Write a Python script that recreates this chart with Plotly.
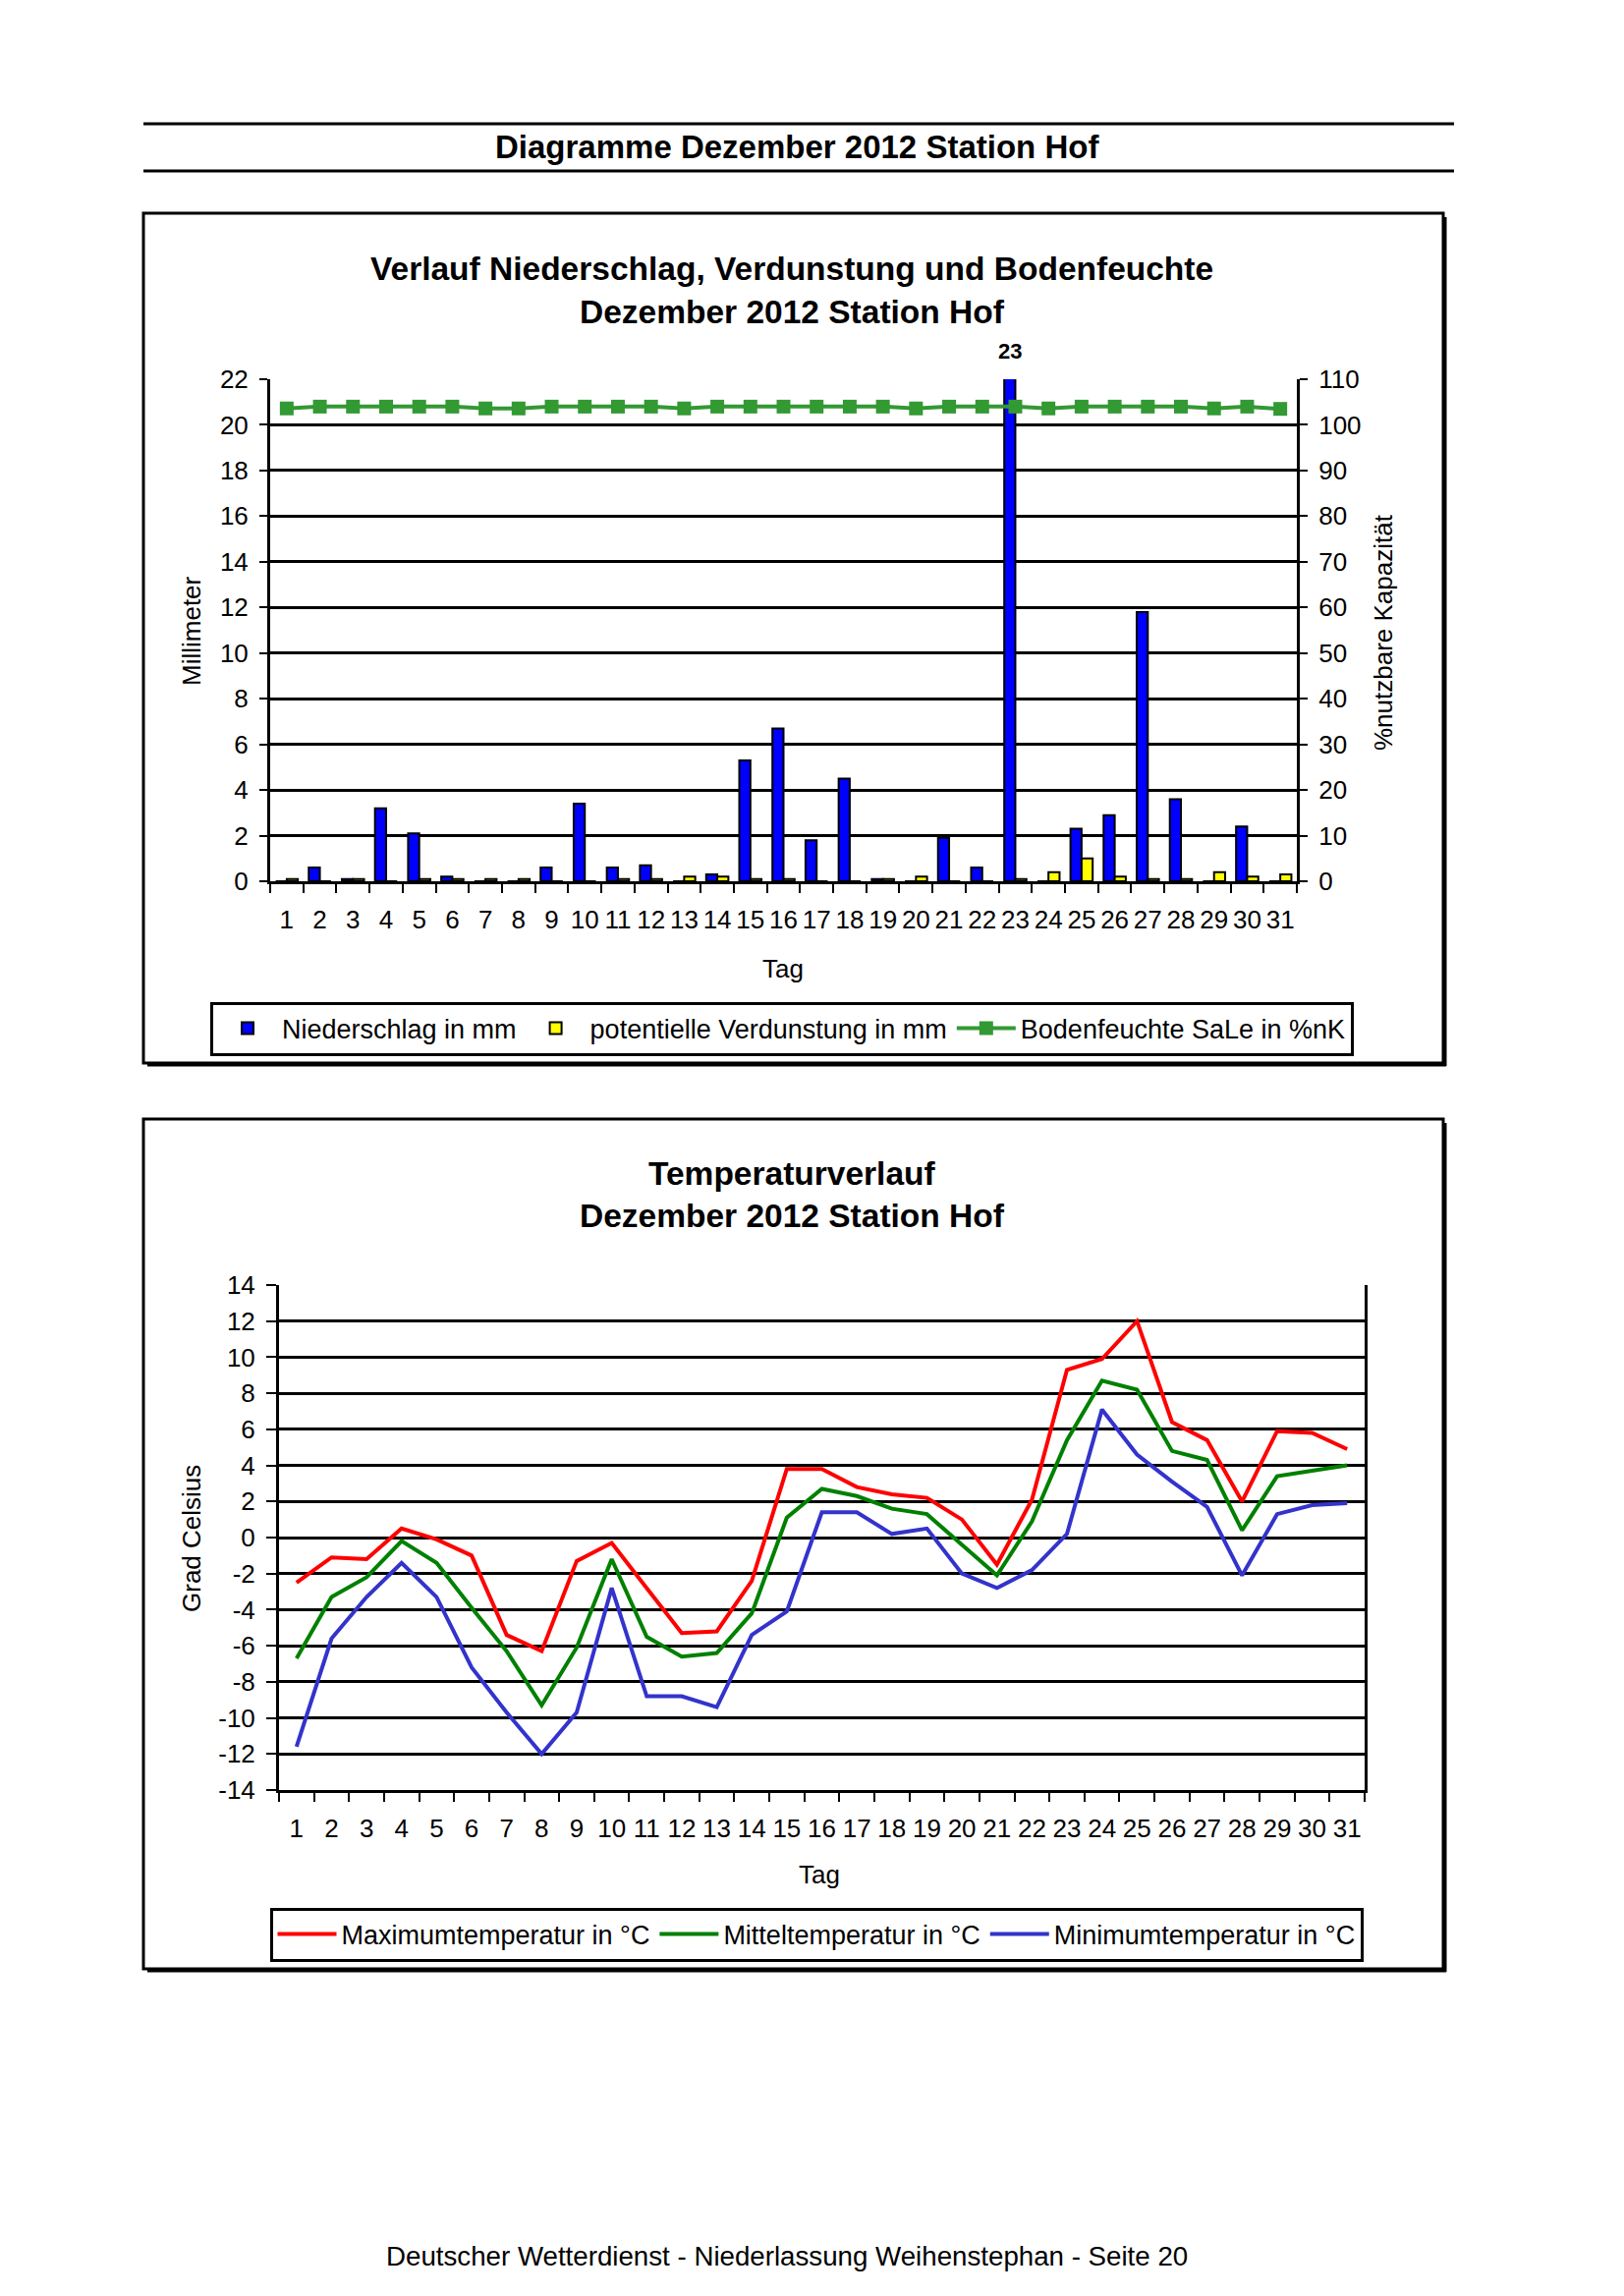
import plotly.graph_objects as go

W, H = 1653, 2337
FONT = "Liberation Sans, Arial, sans-serif"

# ---------------- data ----------------
DAYS = [str(d) for d in range(1, 32)]

NIEDERSCHLAG = [0.0, 0.6, 0.1, 3.2, 2.1, 0.2, 0.0, 0.0, 0.6, 3.4,
                0.6, 0.7, 0.0, 0.3, 5.3, 6.7, 1.8, 4.5, 0.1, 0.0,
                1.9, 0.6, 23.0, 0.0, 2.3, 2.9, 11.8, 3.6, 0.0, 2.4, 0.0]
VERDUNSTUNG = [0.1, 0.0, 0.1, 0.0, 0.1, 0.1, 0.1, 0.1, 0.0, 0.0,
               0.1, 0.1, 0.2, 0.2, 0.1, 0.1, 0.0, 0.0, 0.1, 0.2,
               0.0, 0.0, 0.1, 0.4, 1.0, 0.2, 0.1, 0.1, 0.4, 0.2, 0.3]
BODENFEUCHTE = [103.6, 104.0, 104.0, 104.0, 104.0, 104.0, 103.6, 103.6, 104.0, 104.0,
                104.0, 104.0, 103.6, 104.0, 104.0, 104.0, 104.0, 104.0, 104.0, 103.6,
                104.0, 104.0, 104.0, 103.6, 104.0, 104.0, 104.0, 104.0, 103.6, 104.0, 103.5]

TMAX = [-2.5, -1.1, -1.2, 0.5, -0.1, -1.0, -5.4, -6.3, -1.3, -0.3,
        -2.8, -5.3, -5.2, -2.4, 3.8, 3.8, 2.8, 2.4, 2.2, 1.0,
        -1.5, 2.1, 9.3, 9.9, 12.0, 6.4, 5.4, 2.0, 5.9, 5.8, 4.9]
TMIT = [-6.7, -3.3, -2.2, -0.2, -1.4, -3.9, -6.3, -9.3, -6.1, -1.2,
        -5.5, -6.6, -6.4, -4.2, 1.1, 2.7, 2.3, 1.6, 1.3, -0.4,
        -2.1, 0.9, 5.4, 8.7, 8.2, 4.8, 4.3, 0.4, 3.4, 3.7, 4.0]
TMIN = [-11.6, -5.6, -3.3, -1.4, -3.3, -7.2, -9.7, -12.0, -9.7, -2.8,
        -8.8, -8.8, -9.4, -5.4, -4.1, 1.4, 1.4, 0.2, 0.5, -2.0,
        -2.8, -1.8, 0.2, 7.1, 4.6, 3.1, 1.7, -2.1, 1.3, 1.8, 1.9]

MM_TICKS = list(range(0, 23, 2))
PCT_TICKS = list(range(0, 111, 10))
TEMP_TICKS = list(range(-14, 15, 2))
TEMP_LABELS = [str(v) for v in TEMP_TICKS]

MM_MAX = 22
BARGAP = 0.33


def px(x):
    return x / W


def py(y):
    return 1 - y / H


fig = go.Figure()

# ---------------- chart 1 ----------------
fig.add_trace(go.Bar(
    x=DAYS, y=NIEDERSCHLAG, name="Niederschlag in mm",
    marker=dict(color="#0000FF", line=dict(color="black", width=2)),
    xaxis="x", yaxis="y", legend="legend"))
fig.add_trace(go.Bar(
    x=DAYS, y=VERDUNSTUNG, name="potentielle Verdunstung in mm",
    marker=dict(color="#FFFF00", line=dict(color="black", width=2)),
    xaxis="x", yaxis="y", legend="legend"))
fig.add_trace(go.Scatter(
    x=DAYS, y=BODENFEUCHTE, name="Bodenfeuchte SaLe in %nK",
    mode="lines+markers",
    line=dict(color="#339933", width=4),
    marker=dict(symbol="square", size=14, color="#339933"),
    xaxis="x", yaxis="y2", legend="legend"))

# ---------------- chart 2 ----------------
fig.add_trace(go.Scatter(
    x=DAYS, y=TMAX, name="Maximumtemperatur in °C", mode="lines",
    line=dict(color="#FF0000", width=4), xaxis="x2", yaxis="y3", legend="legend2"))
fig.add_trace(go.Scatter(
    x=DAYS, y=TMIT, name="Mitteltemperatur in °C", mode="lines",
    line=dict(color="#008000", width=4), xaxis="x2", yaxis="y3", legend="legend2"))
fig.add_trace(go.Scatter(
    x=DAYS, y=TMIN, name="Minimumtemperatur in °C", mode="lines",
    line=dict(color="#3333CC", width=4), xaxis="x2", yaxis="y3", legend="legend2"))

B1 = dict(x0=275, x1=1320, y0=386, y1=897)     # plot area chart 1 (px)
B2 = dict(x0=284, x1=1389, y0=1308, y1=1822)   # plot area chart 2 (px)

tick_font = dict(family=FONT, size=26, color="black")

xcommon = dict(type="category", tickson="boundaries", ticks="outside", ticklen=9,
               tickwidth=2, tickcolor="black", showline=True, linecolor="black",
               linewidth=3, showgrid=False, tickfont=tick_font, range=[-0.5, 30.5],
               tickangle=0, fixedrange=True, ticklabelstandoff=14, automargin=False)

fig.update_layout(
    width=W, height=H,
    margin=dict(l=0, r=0, t=0, b=0, pad=0, autoexpand=False),
    paper_bgcolor="white", plot_bgcolor="white",
    font=dict(family=FONT, color="black"),
    barmode="group", bargap=BARGAP, bargroupgap=0,
    xaxis=dict(domain=[px(B1["x0"]), px(B1["x1"])], anchor="y", **xcommon),
    yaxis=dict(domain=[py(B1["y1"]), py(B1["y0"])], anchor="x", range=[0, MM_MAX],
               tickvals=MM_TICKS, showgrid=True, gridcolor="black", gridwidth=2.5,
               showline=True, linecolor="black", linewidth=3, ticks="outside",
               ticklen=8, tickwidth=2, tickcolor="black", zeroline=False,
               tickfont=tick_font, ticklabelstandoff=6, automargin=False),
    yaxis2=dict(overlaying="y", side="right", anchor="x", range=[0, 110],
                tickvals=PCT_TICKS, showgrid=False, showline=True, linecolor="black",
                linewidth=3, ticks="outside", ticklen=8, tickwidth=2, tickcolor="black",
                zeroline=False, tickfont=tick_font, ticklabelstandoff=6, automargin=False),
    xaxis2=dict(domain=[px(B2["x0"]), px(B2["x1"])], anchor="y3", **xcommon),
    yaxis3=dict(domain=[py(B2["y1"]), py(B2["y0"])], anchor="x2", range=[-14, 14],
                tickvals=TEMP_TICKS, ticktext=TEMP_LABELS, showgrid=True,
                gridcolor="black", gridwidth=2.5, showline=True, mirror=True,
                linecolor="black", linewidth=3, ticks="outside", ticklen=10,
                tickwidth=2, tickcolor="black", zeroline=False, tickfont=tick_font,
                ticklabelstandoff=6, automargin=False),
    legend=dict(orientation="h", x=px(796), y=py(1047), xanchor="center",
                yanchor="middle", bordercolor="black", borderwidth=3,
                bgcolor="white", font=dict(family=FONT, size=27, color="black"),
                itemwidth=60, traceorder="normal"),
    legend2=dict(orientation="h", x=px(831), y=py(1969), xanchor="center",
                 yanchor="middle", bordercolor="black", borderwidth=3,
                 bgcolor="white", font=dict(family=FONT, size=27, color="black"),
                 itemwidth=60, traceorder="normal"),
)

# ---------------- frames / rules ----------------
BOXES = [(146, 217, 1469, 1082), (146, 1139, 1469, 2004)]
shapes = [
    dict(type="line", xref="paper", yref="paper", x0=px(146), x1=px(1480),
         y0=py(126), y1=py(126), line=dict(color="black", width=3)),
    dict(type="line", xref="paper", yref="paper", x0=px(146), x1=px(1480),
         y0=py(174), y1=py(174), line=dict(color="black", width=3)),
]
for (l, t, r, b) in BOXES:
    shapes.append(dict(type="rect", xref="paper", yref="paper", x0=px(l), x1=px(r),
                       y0=py(b), y1=py(t), line=dict(color="black", width=3)))
    # shadow on the right and bottom edges
    shapes.append(dict(type="line", xref="paper", yref="paper", x0=px(r + 2), x1=px(r + 2),
                       y0=py(b + 3), y1=py(t + 4), line=dict(color="black", width=3)))
    shapes.append(dict(type="line", xref="paper", yref="paper", x0=px(l + 4), x1=px(r + 3),
                       y0=py(b + 2), y1=py(b + 2), line=dict(color="black", width=3)))
fig.update_layout(shapes=shapes)


def ann(text, x, y, size=26, bold=False, angle=0):
    return dict(text=f"<b>{text}</b>" if bold else text, xref="paper", yref="paper",
                x=px(x), y=py(y), xanchor="center", yanchor="middle", showarrow=False,
                textangle=angle, font=dict(family=FONT, size=size, color="black"))


annotations = [
    ann("Diagramme Dezember 2012 Station Hof", 811, 150, 33, True),
    ann("Verlauf Niederschlag, Verdunstung und Bodenfeuchte", 806, 273, 33.5, True),
    ann("Dezember 2012 Station Hof", 806, 317, 33.5, True),
    ann("Millimeter", 195, 642, 26, angle=-90),
    ann("%nutzbare Kapazität", 1408, 644, 26, angle=-90),
    ann("Tag", 797, 986, 26),
    ann("Temperaturverlauf", 806, 1194, 33.5, True),
    ann("Dezember 2012 Station Hof", 806, 1237, 33.5, True),
    ann("Grad Celsius", 195, 1566, 26, angle=-90),
    ann("Tag", 834, 1908, 26),
    ann("Deutscher Wetterdienst - Niederlassung Weihenstephan - Seite 20", 801, 2296, 27.7),
]

# value labels for bars exceeding the axis maximum
cat_px = (B1["x1"] - B1["x0"]) / len(DAYS)
blue_shift = -(1 - BARGAP) / 4 * cat_px
for i, v in enumerate(NIEDERSCHLAG):
    if v > MM_MAX:
        annotations.append(dict(text=f"<b>{v:g}</b>", x=i, y=MM_MAX, xref="x", yref="y",
                                xshift=blue_shift, yshift=14, yanchor="bottom",
                                showarrow=False,
                                font=dict(family=FONT, size=22, color="black")))

fig.update_layout(annotations=annotations)

fig.write_html(
    "out.html",
    config={"displayModeBar": False},
    post_script="document.body.style.margin='0';"
                "document.body.style.overflow='hidden';"
                "document.documentElement.style.overflow='hidden';",
)
